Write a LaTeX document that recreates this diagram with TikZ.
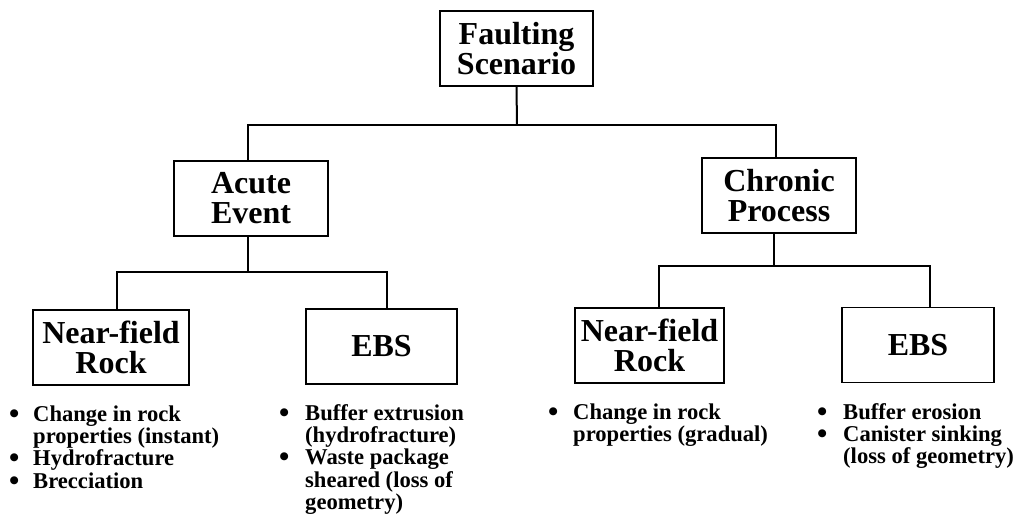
\documentclass[tikz,border=0pt]{standalone}
\usepackage{fontspec}
\usepackage{graphicx}
\setmainfont{Liberation Serif}
% bullet list set as a two-column table: bullet column of width #1
\newcommand\bulletlist[2]{\begin{tabular}[t]{@{}p{#1}@{}l@{}}#2\end{tabular}}
\newcommand\dotmark{\smash{\raisebox{-2pt}{\scalebox{1.3}{\textbullet}}}}
\begin{document}
\begin{tikzpicture}[x=1pt,y=-1pt,
  box/.style={draw, line width=1.1pt, minimum width=#1, minimum height=75pt,
    inner sep=0pt, align=center, font=\fontsize{32}{30}\selectfont\bfseries},
  box/.default=154pt,
  wire/.style={line width=2pt},
  items/.style={anchor=base west, inner sep=0pt,
    font=\fontsize{22.6}{22.3}\selectfont\bfseries}]
\useasboundingbox (0,0) rectangle (1020,516);

% boxes
\node[box=153pt] (top)     at (516.5,48.5) {Faulting\\Scenario};
\node[box=154pt] (acute)   at (251,198.5)  {Acute\\Event};
\node[box=154pt] (chronic) at (779,195.5)  {Chronic\\Process};
\node[box=156pt] (nfL)     at (111,347.5)  {Near-field\\Rock};
\node[box=151pt] (ebsL)    at (381.5,346.5) {EBS};
\node[box=149pt] (nfR)     at (649.5,345.5) {Near-field\\Rock};
\node[box=152pt] (ebsR)    at (918,345)    {EBS};

% tree connectors
\coordinate (b1) at (517,125);
\draw[wire] (top.south) -- (b1);
\draw[wire] ([xshift=-3pt]acute.north) |- (b1) -| ([xshift=-3pt]chronic.north);

\coordinate (b2) at (248,272);
\draw[wire] ([xshift=-3pt]acute.south) -- (b2);
\draw[wire] ([xshift=6pt]nfL.north) |- (b2) -| ([xshift=5.5pt]ebsL.north);

\coordinate (b3) at (774,266);
\draw[wire] ([xshift=-5pt]chronic.south) -- (b3);
\draw[wire] ([xshift=9.5pt]nfR.north) |- (b3) -| ([xshift=12pt]ebsR.north);

% item lists under the boxes
\node[items] (l1) at (9,421) {\bulletlist{24pt}{%
  \dotmark & Change in rock\\
           & properties (instant)\\
  \dotmark & Hydrofracture\\
  \dotmark & Brecciation}};
\node[items] (l2) at (279,420) {\bulletlist{26pt}{%
  \dotmark & Buffer extrusion\\
           & (hydrofracture)\\
  \dotmark & Waste package\\
           & sheared (loss of\\
           & geometry)}};
\node[items] (l3) at (548,419) {\bulletlist{25pt}{%
  \dotmark & Change in rock\\
           & properties (gradual)}};
\node[items] (l4) at (817,419) {\bulletlist{26pt}{%
  \dotmark & Buffer erosion\\
  \dotmark & Canister sinking\\
           & (loss of geometry)}};
\end{tikzpicture}
\end{document}
